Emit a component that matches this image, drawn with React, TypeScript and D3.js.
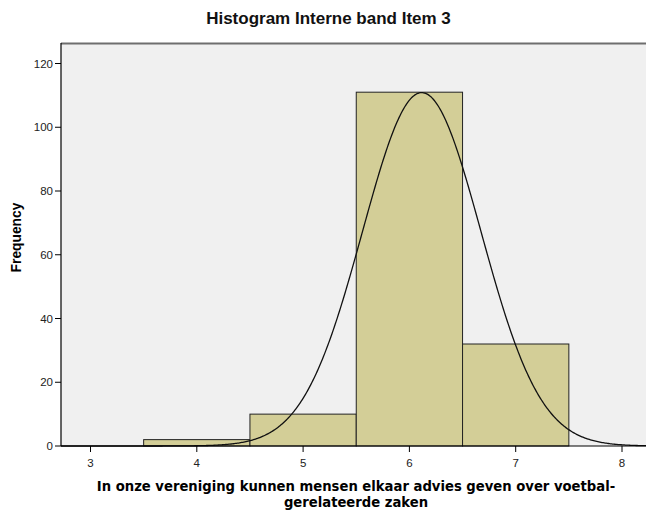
import React from "react";
import * as d3 from "d3";

const binCenters = [3, 4, 5, 6, 7];
const frequencies = [0, 2, 10, 111, 32];
const yTicks = [0, 20, 40, 60, 80, 100, 120];
const xTicks = [3, 4, 5, 6, 7, 8];
const title = "Histogram Interne band Item 3";
const xLabel1 = "In onze vereniging kunnen mensen elkaar advies geven over voetbal-";
const xLabel2 = "gerelateerde zaken";
const yLabel = "Frequency";

export default function App() {
  const W = 646, H = 511;
  const left = 61, right = 650, top = 43, bottom = 446;
  const x = d3.scaleLinear().domain([3, 8]).range([90.5, 622]);
  const y = d3.scaleLinear().domain([0, 120]).range([bottom, 63.5]);

  const n = d3.sum(frequencies);
  const mean = d3.sum(binCenters.map((c, i) => c * frequencies[i])) / n;
  const ss = d3.sum(binCenters.map((c, i) => frequencies[i] * (c - mean) ** 2));
  const sd = Math.sqrt(ss / (n - 1));
  const curveX = d3.range(x.invert(left), x.invert(right), 0.01);
  const pdf = (v: number) => (n * 1) / (sd * Math.sqrt(2 * Math.PI)) * Math.exp(-0.5 * ((v - mean) / sd) ** 2);
  const line = d3.line<number>().x((v) => x(v)).y((v) => y(pdf(v)));

  return (
    <svg width={W} height={H} style={{ display: "block", position: "absolute", left: 0, top: 0 }}>
      <rect x={0} y={0} width={W} height={H} fill="#fff" />
      <text x={328.5} y={24} textAnchor="middle" fontFamily="Liberation Sans, Arial" fontSize={17} fontWeight="bold" fill="#111">{title}</text>
      <rect x={left} y={top} width={right - left} height={bottom - top} fill="#F0F0F0" />
      <line x1={left} x2={right} y1={top + 0.5} y2={top + 0.5} stroke="#6e6e6e" strokeWidth={2} />
      {binCenters.map((c, i) => frequencies[i] > 0 ? (
        <rect key={c} x={x(c - 0.5)} y={y(frequencies[i])} width={x(c + 0.5) - x(c - 0.5)} height={bottom - y(frequencies[i])}
          fill="#D3CE97" stroke="#222" strokeWidth={1} />
      ) : null)}
      <path d={line(curveX) || ""} fill="none" stroke="#111" strokeWidth={1.3} />
      <line x1={left} x2={left} y1={top} y2={bottom} stroke="#000" strokeWidth={1.2} />
      <line x1={left} x2={right} y1={bottom} y2={bottom} stroke="#000" strokeWidth={1.2} />
      {yTicks.map((t) => (
        <g key={t}>
          <line x1={left - 6} x2={left} y1={y(t)} y2={y(t)} stroke="#000" />
          <text x={left - 8} y={y(t) + 4} textAnchor="end" fontFamily="Liberation Sans, Arial" fontSize={11.5} fill="#222">{t}</text>
        </g>
      ))}
      {xTicks.map((t) => (
        <g key={t}>
          <line x1={x(t)} x2={x(t)} y1={bottom} y2={bottom + 6} stroke="#000" />
          <text x={x(t)} y={bottom + 21} textAnchor="middle" fontFamily="Liberation Sans, Arial" fontSize={11.5} fill="#222">{t}</text>
        </g>
      ))}
      <text x={356} y={491} textAnchor="middle" fontFamily="DejaVu Sans" fontSize={13.2} fontWeight="bold" fill="#000">{xLabel1}</text>
      <text x={356} y={506.5} textAnchor="middle" fontFamily="DejaVu Sans" fontSize={13.2} fontWeight="bold" fill="#000">{xLabel2}</text>
      <text transform={`translate(21,237.5) rotate(-90)`} textAnchor="middle" fontFamily="Liberation Sans, Arial" fontSize={13.8} fontWeight="bold" fill="#000">{yLabel}</text>
    </svg>
  );
}
